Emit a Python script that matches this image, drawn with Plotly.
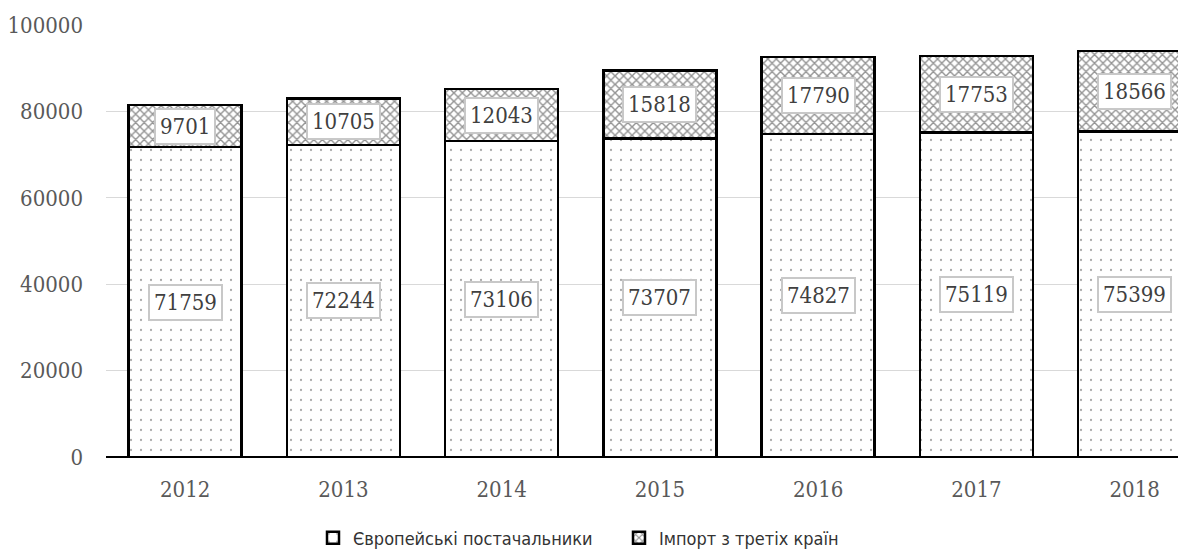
import plotly.graph_objects as go

years = ["2012", "2013", "2014", "2015", "2016", "2017", "2018"]
european = [71759, 72244, 73106, 73707, 74827, 75119, 75399]
imports = [9701, 10705, 12043, 15818, 17790, 17753, 18566]
series_names = ["Європейські постачальники", "Імпорт з третіх країн"]
y_ticks = [0, 20000, 40000, 60000, 80000, 100000]

serif = "DejaVu Serif Condensed, DejaVu Serif, serif"
tick_font = dict(family=serif, size=22, color="#595959")
label_font = dict(family=serif, size=22, color="#404040")

fig = go.Figure()
fig.add_trace(go.Bar(
    x=years, y=european, name=series_names[0],
    marker=dict(color="white", line=dict(color="black", width=2.5),
                pattern=dict(shape=".", fgcolor="#555555", bgcolor="white", size=10, solidity=0.04)),
))
fig.add_trace(go.Bar(
    x=years, y=imports, name=series_names[1],
    marker=dict(color="white", line=dict(color="black", width=2.5),
                pattern=dict(shape="x", fgcolor="#2a2a2a", bgcolor="white", size=6, solidity=0.42)),
))

annotations = []
for i, yr in enumerate(years):
    annotations.append(dict(x=i, y=european[i] / 2, text=str(european[i]), showarrow=False,
                            font=label_font, bgcolor="white", bordercolor="#c8c8c8",
                            borderwidth=2, borderpad=4, xref="x", yref="y"))
    annotations.append(dict(x=i, y=european[i] + imports[i] / 2, text=str(imports[i]), showarrow=False,
                            font=label_font, bgcolor="white", bordercolor="#c8c8c8",
                            borderwidth=2, borderpad=4, xref="x", yref="y"))

fig.update_layout(
    width=1186, height=549,
    margin=dict(l=98, r=0, t=17, b=100),
    barmode="stack", bargap=0.286,
    plot_bgcolor="white", paper_bgcolor="white",
    annotations=annotations,
    legend=dict(orientation="h", traceorder="normal", xref="container", yref="container",
                x=305 / 1186, xanchor="left", y=19 / 549, yanchor="middle",
                font=dict(family="DejaVu Sans Condensed, DejaVu Sans, sans-serif", size=18, color="#333333"),
                itemwidth=30, entrywidth=261),
    xaxis=dict(type="category", range=[-0.5, 6.375], showgrid=False, showline=False, ticks="",
               tickfont=tick_font, ticklabelstandoff=17, automargin=False),
    yaxis=dict(range=[0, 100000], tickvals=y_ticks, ticktext=[str(v) for v in y_ticks],
               showgrid=True, gridcolor="#d9d9d9", gridwidth=1,
               zeroline=True, zerolinecolor="#000000", zerolinewidth=1.5,
               tickfont=tick_font, ticklabelstandoff=22, automargin=False),
)

fig.write_html("out.html")
